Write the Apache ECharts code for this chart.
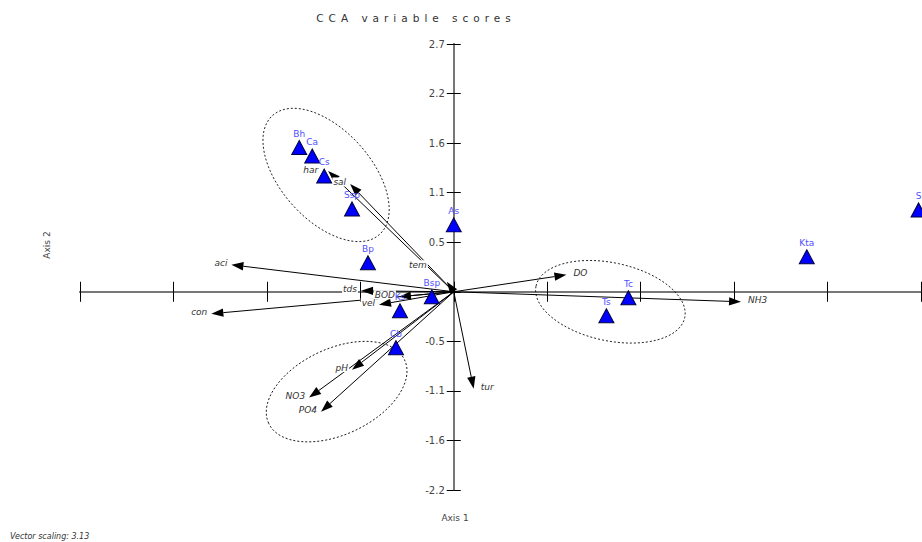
<!DOCTYPE html>
<html>
<head>
<meta charset="utf-8">
<script src="https://cdn.jsdelivr.net/npm/echarts@6.0.0/dist/echarts.min.js"></script>
<style>
html,body{margin:0;padding:0;background:#fff}
#main{width:922px;height:542px}
</style>
</head>
<body>
<div id="main"></div>
<script>
// species scores (triangles)
var species = ['Bh', 'Ca', 'Cs', 'Ssp', 'Bp', 'As', 'Bsp', 'Ks', 'Cb', 'Ts', 'Tc', 'Kta', 'S']
var speciesX = [-0.893, -0.818, -0.749, -0.588, -0.496, 0.000, -0.127, -0.311, -0.334, 0.882, 1.009, 2.040, 2.686]
var speciesY = [1.572, 1.480, 1.262, 0.903, 0.316, 0.729, -0.054, -0.207, -0.609, -0.261, -0.065, 0.381, 0.892]

// environmental vectors (arrows from origin)
var envNames = ['har', 'sal', 'tem', 'aci', 'con', 'tds', 'BOD', 'vel', 'pH', 'NO3', 'PO4', 'tur', 'DO', 'NH3']
var envX = [-0.726, -0.599, -0.040, -1.285, -1.401, -0.536, -0.317, -0.432, -0.588, -0.836, -0.767, 0.115, 0.651, 1.660]
var envY = [1.317, 1.175, 0.109, 0.294, -0.239, 0.011, -0.054, -0.141, -0.849, -1.153, -1.306, -1.056, 0.185, -0.109]

// group ellipses: centre in axis units
var groupX = [-0.738, -0.677, 0.905]
var groupY = [1.273, -1.088, -0.109]

var axisMin = -2.16
var axisMax = 2.7
var axisStep = 0.54

// ellipse size/tilt in pixels and degrees (clockwise)
var groupShape = [[80, 45, 48], [75, 43, -25], [76, 39, 12]]
var labelShift = {tem: [-16, -15], har: [-6, 1]}

var font = '"DejaVu Sans", Verdana, sans-serif'
var gridLeft = 80, gridRight = 1

function valAxis(extra){
    var a = {
        type: 'value',
        min: axisMin,
        max: axisMax,
        interval: axisStep,
        splitLine: {show: false},
        axisLabel: {show: false},
        axisLine: {onZero: true, lineStyle: {color: '#777', width: 2}},
        axisTick: {show: true, length: 10, lineStyle: {color: '#000', width: 1}}
    }
    for (var k in extra) a[k] = extra[k]
    return a
}

// y axis sits on x = 0; shift the labelled axis there from the grid's left edge
var zeroOffset = -(922 - gridLeft - gridRight) * (0 - axisMin) / (axisMax - axisMin)

var option = {
    animation: false,
    backgroundColor: '#fff',
    grid: {left: gridLeft, right: gridRight, top: 44, bottom: 52, outerBoundsMode: 'none'},
    xAxis: [
        valAxis({position: 'bottom'}),
        valAxis({position: 'top'})
    ],
    yAxis: [
        valAxis({
            position: 'left',
            offset: zeroOffset,
            axisLine: {onZero: false, lineStyle: {color: '#777', width: 2}},
            axisTick: {show: true, length: 7, lineStyle: {color: '#000', width: 1}},
            axisLabel: {
                show: true, margin: 9, color: '#444', fontSize: 10, fontFamily: font,
                formatter: function(v){ return Math.abs(v) < 1e-6 ? '' : v.toFixed(1) }
            }
        }),
        valAxis({
            position: 'right',
            axisTick: {show: true, length: 7, lineStyle: {color: '#000', width: 1}}
        })
    ],
    graphic: [
        {type: 'text', x: 416, y: 18, style: {text: 'CCA variable scores', font: '10.5px ' + font, fill: '#333', align: 'center', verticalAlign: 'middle'}},
        {type: 'text', x: 455, y: 518, style: {text: 'Axis 1', font: '9px ' + font, fill: '#444', align: 'center', verticalAlign: 'middle'}},
        {type: 'text', x: 47, y: 245, rotation: Math.PI / 2, style: {text: 'Axis 2', font: '9px ' + font, fill: '#444', align: 'center', verticalAlign: 'middle'}},
        {type: 'text', x: 10, y: 536, style: {text: 'Vector scaling: 3.13', font: 'italic 8px ' + font, fill: '#333', align: 'left', verticalAlign: 'middle'}}
    ],
    series: [
        {
            type: 'custom',
            coordinateSystem: 'cartesian2d',
            z: 1,
            clip: false,
            data: groupX.map(function(x, i){ return [x, groupY[i]] }),
            renderItem: function(params, api){
                var c = api.coord([api.value(0), api.value(1)])
                var s = groupShape[params.dataIndex]
                return {
                    type: 'ellipse',
                    x: c[0], y: c[1],
                    rotation: -s[2] * Math.PI / 180,
                    shape: {cx: 0, cy: 0, rx: s[0], ry: s[1]},
                    style: {fill: 'none', stroke: '#000', lineWidth: 0.8, lineDash: [2, 2]}
                }
            }
        },
        {
            type: 'custom',
            coordinateSystem: 'cartesian2d',
            z: 2,
            clip: false,
            data: envX.map(function(x, i){ return [x, envY[i]] }),
            renderItem: function(params, api){
                var name = envNames[params.dataIndex]
                var o = api.coord([0, 0])
                var t = api.coord([api.value(0), api.value(1)])
                var ang = Math.atan2(t[1] - o[1], t[0] - o[0])
                var L = 12, W = 4.2
                var bx = t[0] - L * Math.cos(ang), by = t[1] - L * Math.sin(ang)
                var px = -Math.sin(ang) * W, py = Math.cos(ang) * W
                var left = api.value(0) < 0
                var sh = labelShift[name] || [0, 0]
                return {
                    type: 'group',
                    children: [
                        {type: 'line', shape: {x1: o[0], y1: o[1], x2: bx, y2: by}, style: {stroke: '#000', lineWidth: 1}},
                        {type: 'polygon', shape: {points: [[t[0], t[1]], [bx + px, by + py], [bx - px, by - py]]}, style: {fill: '#000'}},
                        {
                            type: 'text',
                            x: t[0] + (left ? -3 : 6) + sh[0],
                            y: t[1] - 2 + sh[1],
                            z2: 10,
                            style: {
                                text: name, font: 'italic 9px ' + font, fill: '#333',
                                align: left ? 'right' : 'left', verticalAlign: 'middle',
                                backgroundColor: '#fff', padding: [0, 1]
                            }
                        }
                    ]
                }
            }
        },
        {
            type: 'scatter',
            z: 3,
            clip: false,
            symbol: 'triangle',
            symbolSize: [15, 14],
            data: species.map(function(n, i){ return {name: n, value: [speciesX[i], speciesY[i]]} }),
            itemStyle: {color: '#0000ff', borderColor: '#000040', borderWidth: 1, opacity: 1},
            label: {show: true, position: 'top', distance: 2, formatter: '{b}', color: '#4f4fff', fontSize: 9, fontFamily: font},
            emphasis: {disabled: true}
        }
    ]
}

var myChart = echarts.init(document.getElementById('main'), null, {renderer: 'svg'})
myChart.setOption(option)

function spaceTitle(){
    var texts = document.querySelectorAll('#main text')
    for (var i = 0; i < texts.length; i++) {
        if (texts[i].textContent == 'CCA variable scores') texts[i].style.letterSpacing = '5px'
    }
}
spaceTitle()
myChart.on('finished', spaceTitle)
</script>
</body>
</html>
